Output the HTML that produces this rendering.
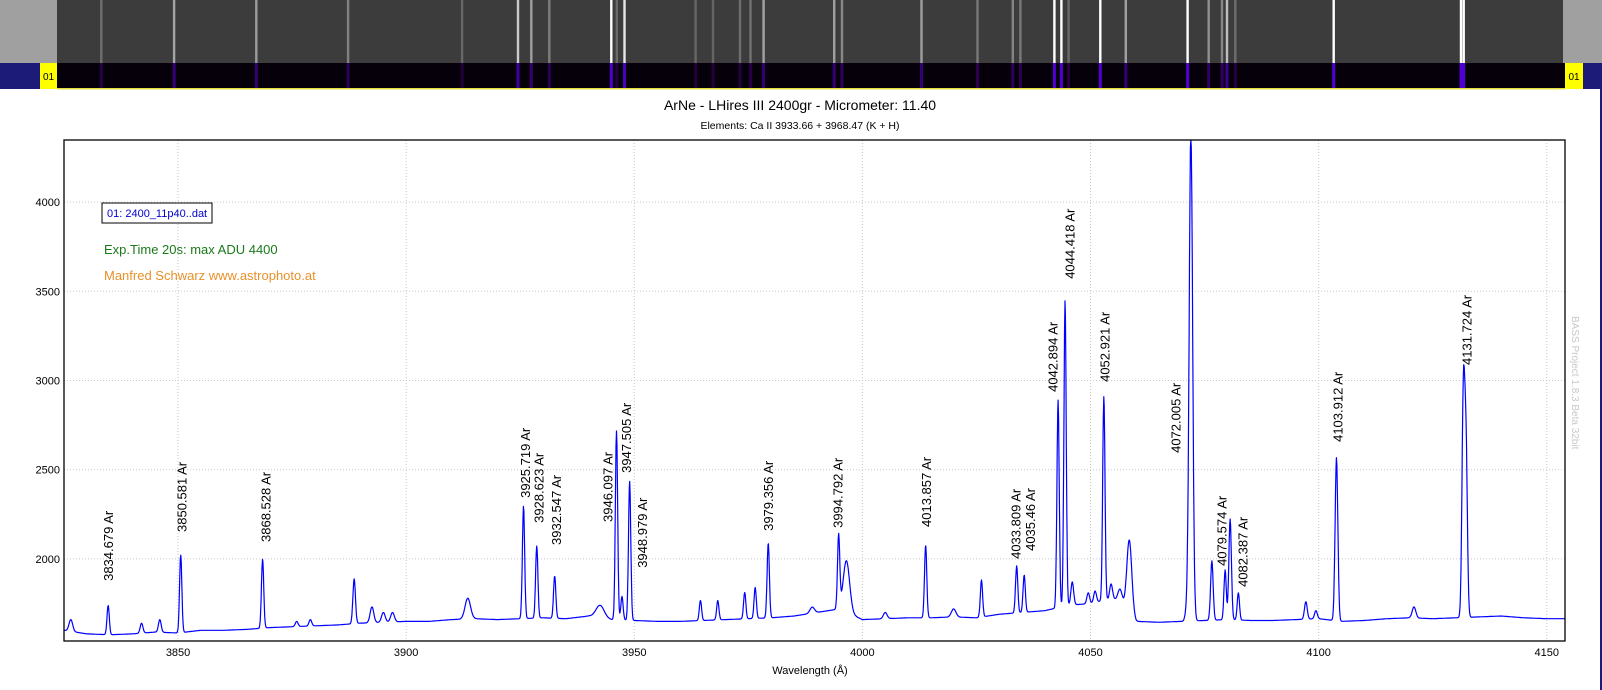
<!DOCTYPE html>
<html><head><meta charset="utf-8"><style>
html,body{margin:0;padding:0;background:#fff;}
svg{display:block;font-family:"Liberation Sans",sans-serif;}
</style></head><body>
<svg id="chart" width="1602" height="690" viewBox="0 0 1602 690" xmlns="http://www.w3.org/2000/svg">
<rect x="0" y="0" width="1602" height="690" fill="#fff"/>
<g id="header">
 <rect x="0" y="0" width="1602" height="63" fill="#a0a0a0"/>
 <rect x="57" y="0" width="1506" height="63" fill="#3c3c3c"/>
 <g id="stripLines"></g>
 <rect x="0" y="63" width="1602" height="25" fill="#05000a"/>
 <g id="barLines"></g>
 <rect x="0" y="63" width="40" height="26" fill="#1c1c78"/>
 <rect x="40" y="63" width="17" height="26" fill="#ffff00"/>
 <text x="48.5" y="80" font-size="10" text-anchor="middle" fill="#000">01</text>
 <rect x="1583" y="63" width="19" height="26" fill="#1c1c78"/>
 <rect x="1565" y="63" width="18" height="26" fill="#ffff00"/>
 <text x="1574" y="80" font-size="10" text-anchor="middle" fill="#000">01</text>
 <rect x="57" y="88" width="1508" height="1.5" fill="#e0e040"/>
 <rect x="1600" y="89" width="2" height="601" fill="#1c1c78"/>
</g>
<text x="800" y="110" font-size="14" text-anchor="middle" fill="#000">ArNe - LHires III 2400gr - Micrometer: 11.40</text>
<text x="800" y="129" font-size="10.5" text-anchor="middle" fill="#000">Elements: Ca II 3933.66 + 3968.47 (K + H)</text>
<g id="grid"></g>
<g id="yticks"></g>
<g id="xticks"></g>
<path id="spec" fill="none" stroke="#0000ff" stroke-width="1.2" stroke-linejoin="round"/>
<g id="labels"></g>
<rect x="64" y="140" width="1501" height="501" fill="none" stroke="#000" stroke-width="1.3"/>
<text x="810" y="674" font-size="11" text-anchor="middle" fill="#000">Wavelength (Å)</text>
<rect x="102" y="203" width="110" height="20" fill="#fff" stroke="#000" stroke-width="1"/>
<text x="107" y="217" font-size="11" fill="#0000cc">01: 2400_11p40..dat</text>
<text x="104" y="254" font-size="13" fill="#1a7a1a">Exp.Time 20s: max ADU 4400</text>
<text x="104" y="280" font-size="13" fill="#e8902a">Manfred Schwarz www.astrophoto.at</text>
<text transform="translate(1572,316) rotate(90)" font-size="10" fill="#c8c8c8">BASS Project 1.8.3 Beta 32bit</text>
</svg>
<script>
const xTicks=[3850,3900,3950,4000,4050,4100,4150];
const yTicks=[2000,2500,3000,3500,4000];
const baseWl=[3825,3830,3835,3840,3845,3850,3855,3860,3865,3870,3875,3880,3885,3890,3895,3900,3905,3910,3915,3920,3925,3930,3935,3940,3945,3950,3955,3960,3965,3970,3975,3980,3985,3990,3995,4000,4005,4010,4015,4020,4025,4030,4035,4040,4045,4050,4055,4060,4065,4070,4075,4080,4085,4090,4095,4100,4105,4110,4115,4120,4125,4130,4135,4140,4145,4150,4155];
const baseAdu=[1600,1580,1575,1580,1590,1585,1600,1600,1605,1615,1620,1625,1630,1640,1645,1650,1650,1660,1665,1660,1665,1670,1665,1680,1660,1655,1650,1650,1655,1660,1665,1670,1680,1700,1720,1660,1665,1670,1670,1675,1670,1690,1700,1710,1740,1750,1780,1650,1645,1650,1655,1660,1655,1655,1660,1665,1650,1655,1665,1670,1665,1670,1675,1680,1670,1665,1665];
const peakWl=[3826.5,3834.68,3842,3846,3850.58,3868.53,3876,3879,3888.6,3892.5,3895,3897,3913.5,3925.72,3928.62,3932.55,3942.5,3946.1,3947.3,3948.98,3964.5,3968.3,3974.2,3976.5,3979.36,3989,3994.79,3996.5,4005,4013.86,4020,4026.1,4033.81,4035.46,4042.89,4044.42,4046.0,4049.5,4051,4052.92,4054.5,4056.5,4058.5,4071,4072.0,4076.6,4079.5,4080.6,4082.4,4097.2,4099.4,4103.91,4120.9,4131.72,4132.3];
const peakAdu=[1660,1739,1640,1660,2022,2000,1650,1660,1888,1731,1700,1700,1780,2297,2073,1905,1740,2717,1790,2437,1767,1767,1812,1840,2090,1730,2129,1990,1700,2078,1720,1882,1961,1910,2891,3452,1871,1810,1820,2913,1860,1830,2106,1700,4400,1989,1938,2224,1810,1760,1710,2568,1731,2900,2600];
const peakSig=[0.4,0.25,0.3,0.3,0.25,0.25,0.3,0.3,0.28,0.4,0.4,0.4,0.6,0.25,0.25,0.25,0.9,0.25,0.25,0.25,0.25,0.25,0.25,0.25,0.25,0.5,0.25,0.7,0.4,0.25,0.5,0.25,0.25,0.25,0.25,0.25,0.3,0.3,0.3,0.25,0.3,0.5,0.55,0.3,0.38,0.28,0.25,0.28,0.25,0.3,0.3,0.3,0.4,0.3,0.3];
const labelText=["3834.679 Ar","3850.581 Ar","3868.528 Ar","3925.719 Ar","3928.623 Ar","3932.547 Ar","3946.097 Ar","3947.505 Ar","3948.979 Ar","3979.356 Ar","3994.792 Ar","4013.857 Ar","4033.809 Ar","4035.46 Ar","4042.894 Ar","4044.418 Ar","4052.921 Ar","4072.005 Ar","4079.574 Ar","4082.387 Ar","4103.912 Ar","4131.724 Ar"];
const labelWl=[3834.7,3850.9,3869.3,3926.2,3929.1,3933.0,3944.2,3948.3,3951.8,3979.4,3994.7,4014.0,4033.7,4036.8,4041.8,4045.5,4053.2,4068.7,4078.8,4083.4,4104.2,4132.5];
const labelAdu=[1877,2151,2095,2342,2202,2078,2207,2482,1950,2157,2174,2179,2000,2045,2936,3570,2992,2594,1961,1843,2656,3087];

const X0=64,X1=1565,Y0=140,Y1=641,WMIN=3825.0,WMAX=4154.0,AMIN=1540,AMAX=4348;
const NS="http://www.w3.org/2000/svg";
function xs(w){return X0+(w-WMIN)/(WMAX-WMIN)*(X1-X0);}
function ys(a){return Y1-(a-AMIN)/(AMAX-AMIN)*(Y1-Y0);}
function mk(tag,parent){const e=document.createElementNS(NS,tag);document.getElementById(parent).appendChild(e);return e;}
function base(w){for(let i=0;i<baseWl.length-1;i++){if(w<=baseWl[i+1]){const t=(w-baseWl[i])/(baseWl[i+1]-baseWl[i]);return baseAdu[i]+t*(baseAdu[i+1]-baseAdu[i]);}}return baseAdu[baseAdu.length-1];}

xTicks.forEach(t=>{
 const l=mk('line','grid');
 
 
 l.setAttribute('x1',xs(t));l.setAttribute('x2',xs(t));l.setAttribute('y1',Y0);l.setAttribute('y2',Y1);
 l.setAttribute('stroke','#c8c8c8');l.setAttribute('stroke-dasharray','1,2');
 const tx=mk('text','xticks');
 
 
 tx.setAttribute('x',xs(t));tx.setAttribute('y',656);tx.setAttribute('font-size','11');tx.setAttribute('text-anchor','middle');
 tx.textContent=t;
});
yTicks.forEach(t=>{
 const l=mk('line','grid');
 
 
 l.setAttribute('x1',X0);l.setAttribute('x2',X1);l.setAttribute('y1',ys(t));l.setAttribute('y2',ys(t));
 l.setAttribute('stroke','#c8c8c8');l.setAttribute('stroke-dasharray','1,2');
 const tx=mk('text','yticks');
 
 
 tx.setAttribute('x',60);tx.setAttribute('y',ys(t)+4);tx.setAttribute('font-size','11');tx.setAttribute('text-anchor','end');
 tx.textContent=t;
});

let d='';
for(let w=WMIN;w<=WMAX+0.001;w+=0.1){
 let v=base(w);
 for(let i=0;i<peakWl.length;i++){const z=(w-peakWl[i])/peakSig[i];if(Math.abs(z)<6){v+=(peakAdu[i]-base(peakWl[i]))*Math.exp(-0.5*z*z);}}
 let y=Math.max(Y0,ys(v));
 d+=(d?'L':'M')+xs(w).toFixed(1)+','+y.toFixed(1);
}
document.getElementById('spec').setAttribute('d',d);

labelText.forEach((s,i)=>{
 const t=mk('text','labels');
 
 
 const x=xs(labelWl[i])+4.5,y=ys(labelAdu[i]);
 t.setAttribute('transform','translate('+x.toFixed(1)+','+y.toFixed(1)+') rotate(-90)');
 t.setAttribute('font-size','13');t.setAttribute('fill','#000');
 t.textContent=s;
});

peakWl.forEach((w,i)=>{
 const k=Math.min(1,(peakAdu[i]-base(w))/900);
 if(k<0.12)return;
 const sx=57+(w-WMIN)/(WMAX-WMIN)*1506;
 const l=mk('rect','stripLines');
 
 
 l.setAttribute('x',(sx-1.2).toFixed(1));l.setAttribute('y',0);l.setAttribute('width',2.4);l.setAttribute('height',63);
 const g=Math.round(80+175*k);
 l.setAttribute('fill','rgb('+g+','+g+','+g+')');
 const b=mk('rect','barLines');
 
 
 b.setAttribute('x',(sx-1.5).toFixed(1));b.setAttribute('y',63);b.setAttribute('width',3);b.setAttribute('height',25);
 b.setAttribute('fill','rgb('+Math.round(30+50*k)+',0,'+Math.round(40+170*k)+')');
});
</script>
</body></html>
